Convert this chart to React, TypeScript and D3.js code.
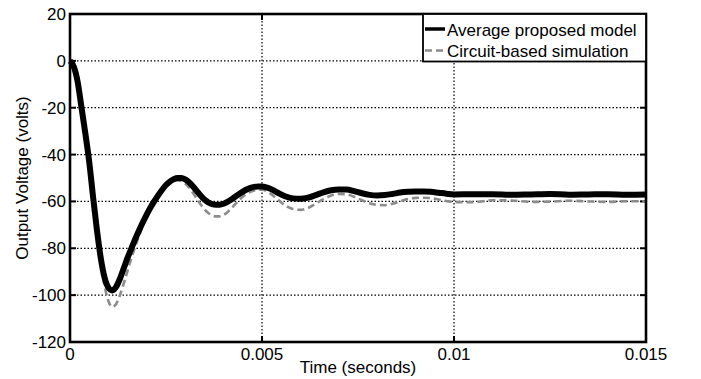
import { useRef, useEffect } from 'react';
import * as d3 from 'd3';

const W = 701;
const H = 379;
const MARGIN = { top: 14, right: 55, bottom: 37, left: 70 };
const FONT = '"Liberation Sans", Arial, sans-serif';

// sample times in milliseconds
const TIME_MS = [
  0, 0.1, 0.2, 0.3, 0.4, 0.5, 0.6, 0.7, 0.8, 0.9,
  1.0, 1.1, 1.2, 1.3, 1.4, 1.5, 1.6, 1.7, 1.8, 1.9,
  2.0, 2.1, 2.2, 2.3, 2.4, 2.5, 2.6, 2.7, 2.8, 2.9,
  3.0, 3.1, 3.2, 3.3, 3.4, 3.5, 3.6, 3.7, 3.8, 3.9,
  4.0, 4.1, 4.2, 4.3, 4.4, 4.5, 4.6, 4.7, 4.8, 4.9,
  5.0, 5.2, 5.4, 5.6, 5.8, 6.0, 6.2, 6.4, 6.6, 6.8,
  7.0, 7.2, 7.4, 7.6, 7.8, 8.0, 8.2, 8.4, 8.6, 8.8,
  9.0, 9.2, 9.4, 9.6, 9.8, 10.0, 10.5, 11.0, 11.5, 12.0,
  12.5, 13.0, 13.5, 14.0, 14.5, 15.0,
];

const AVG_MODEL = [
  0, -2.5, -9, -20, -31, -43, -58, -72, -84, -92.5,
  -96.8, -98, -96.5, -93, -88.5, -84, -80, -76, -72.3, -68.8,
  -65.5, -62.5, -59.8, -57.3, -55, -53, -51.5, -50.5, -50, -50,
  -50.6, -51.8, -53.5, -55.5, -57.5, -59.2, -60.4, -61.1, -61.4, -61.4,
  -61, -60.2, -59.2, -58, -56.9, -55.8, -54.9, -54.2, -53.8, -53.6,
  -53.6, -54.5, -56.2, -57.8, -58.7, -58.9, -58.4, -57.3, -56.1, -55.2,
  -54.9, -54.9, -55.6, -56.5, -57.2, -57.5, -57.3, -56.8, -56.2, -55.9,
  -55.8, -55.8, -55.9, -56.3, -56.7, -57, -56.9, -56.9, -57.2, -57,
  -56.8, -57.1, -57, -56.9, -57.1, -57,
];

const CIRCUIT_SIM = [
  0, -2.5, -9, -20, -31.5, -44, -58.5, -73, -86, -96,
  -102.5, -105, -103.8, -100, -95, -89.5, -84.2, -79.2, -74.6, -70.3,
  -66.5, -63, -59.8, -57, -54.8, -53.1, -51.9, -51.2, -51, -51.3,
  -52.3, -54, -56.3, -58.8, -61.2, -63.3, -64.9, -65.9, -66.4, -66.4,
  -65.8, -64.6, -63, -61.2, -59.5, -58, -56.8, -55.9, -55.3, -55,
  -55, -56.5, -59, -61.6, -63.2, -63.6, -62.8, -61, -59, -57.5,
  -56.8, -57, -58, -59.5, -60.8, -61.5, -61.6, -61, -60, -59,
  -58.5, -58.4, -58.6, -59.2, -59.8, -60.3, -60.3, -59.5, -59.6, -60.2,
  -60.1, -59.7, -60, -60.2, -59.9, -60,
];

const X_TICKS = [0, 0.005, 0.01, 0.015];
const X_TICK_LABELS = ['0', '0.005', '0.01', '0.015'];
const Y_TICKS = [20, 0, -20, -40, -60, -80, -100, -120];

const SERIES = [
  { name: 'Average proposed model', values: AVG_MODEL, color: '#000', width: 6, dash: null },
  { name: 'Circuit-based simulation', values: CIRCUIT_SIM, color: '#8c8c8c', width: 2.6, dash: '7,4' },
];

export default function App() {
  const svgRef = useRef<SVGSVGElement | null>(null);

  useEffect(() => {
    const el = svgRef.current;
    if (!el) return;
    el.innerHTML = '';

    const iw = W - MARGIN.left - MARGIN.right;
    const ih = H - MARGIN.top - MARGIN.bottom;

    const x = d3.scaleLinear().domain([0, 0.015]).range([0, iw]);
    const y = d3.scaleLinear().domain([-120, 20]).range([ih, 0]);

    const root = d3.select(el);
    const g = root.append('g').attr('transform', `translate(${MARGIN.left},${MARGIN.top})`);

    // dotted grid
    const grid = g.append('g').attr('stroke', '#000').attr('stroke-width', 1.2).attr('stroke-dasharray', '1.5,2');
    Y_TICKS.filter(v => v !== 20 && v !== -120).forEach(v => {
      grid.append('line').attr('x1', 0).attr('x2', iw).attr('y1', y(v)).attr('y2', y(v));
    });
    X_TICKS.filter(v => v !== 0 && v !== 0.015).forEach(v => {
      grid.append('line').attr('y1', 0).attr('y2', ih).attr('x1', x(v)).attr('x2', x(v));
    });

    // inward ticks, top/bottom and left/right
    const ticks = g.append('g').attr('stroke', '#000').attr('stroke-width', 2);
    X_TICKS.forEach(v => {
      ticks.append('line').attr('x1', x(v)).attr('x2', x(v)).attr('y1', ih).attr('y2', ih - 6);
      ticks.append('line').attr('x1', x(v)).attr('x2', x(v)).attr('y1', 0).attr('y2', 6);
    });
    Y_TICKS.forEach(v => {
      ticks.append('line').attr('x1', 0).attr('x2', 6).attr('y1', y(v)).attr('y2', y(v));
      ticks.append('line').attr('x1', iw).attr('x2', iw - 6).attr('y1', y(v)).attr('y2', y(v));
    });

    // data lines, gray under black
    const line = d3.line<number>()
      .x((_, i) => x(TIME_MS[i] / 1000))
      .y(d => y(d))
      .curve(d3.curveMonotoneX);

    [SERIES[1], SERIES[0]].forEach(s => {
      g.append('path')
        .attr('d', line(s.values))
        .attr('fill', 'none')
        .attr('stroke', s.color)
        .attr('stroke-width', s.width)
        .attr('stroke-linejoin', 'round')
        .attr('stroke-dasharray', s.dash);
    });

    // axes box
    g.append('rect')
      .attr('x', 0).attr('y', 0).attr('width', iw).attr('height', ih)
      .attr('fill', 'none').attr('stroke', '#000').attr('stroke-width', 2.6);

    // tick labels
    X_TICKS.forEach((v, i) => {
      g.append('text')
        .attr('x', x(v)).attr('y', ih + 18)
        .attr('text-anchor', 'middle')
        .style('font-family', FONT).style('font-size', '17px')
        .text(X_TICK_LABELS[i]);
    });
    Y_TICKS.forEach(v => {
      g.append('text')
        .attr('x', -4).attr('y', y(v) + 6)
        .attr('text-anchor', 'end')
        .style('font-family', FONT).style('font-size', '17px')
        .text(String(v));
    });

    // axis titles
    g.append('text')
      .attr('x', iw / 2).attr('y', ih + 31)
      .attr('text-anchor', 'middle')
      .style('font-family', FONT).style('font-size', '17px')
      .text('Time (seconds)');
    g.append('text')
      .attr('transform', `translate(${28 - MARGIN.left},${ih / 2}) rotate(-90)`)
      .attr('text-anchor', 'middle')
      .style('font-family', FONT).style('font-size', '17px')
      .text('Output Voltage (volts)');

    // legend
    const lg = g.append('g').attr('transform', `translate(${iw - 223},0)`);
    lg.append('rect')
      .attr('x', 0).attr('y', 0).attr('width', 223).attr('height', 47.5)
      .attr('fill', '#fff').attr('stroke', '#000').attr('stroke-width', 1.8);
    SERIES.forEach((s, i) => {
      const ly = 15 + i * 21.5;
      lg.append('line')
        .attr('x1', 2).attr('x2', 22).attr('y1', ly).attr('y2', ly)
        .attr('stroke', s.color)
        .attr('stroke-width', i === 0 ? 3.5 : 2.6)
        .attr('stroke-dasharray', s.dash);
      lg.append('text')
        .attr('x', 24).attr('y', ly + 6.5)
        .style('font-family', FONT).style('font-size', '17px')
        .text(s.name);
    });
  }, []);

  return (
    <svg
      ref={svgRef}
      width={W}
      height={H}
      style={{ position: 'absolute', left: 0, top: 0, background: '#fff' }}
    />
  );
}
